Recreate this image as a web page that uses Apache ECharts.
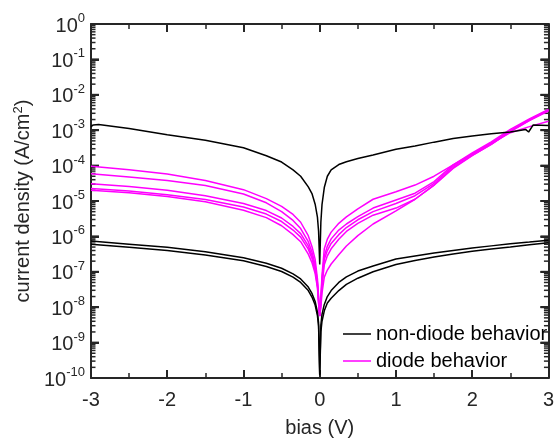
<!DOCTYPE html>
<html>
<head>
<meta charset="utf-8">
<script src="https://cdn.jsdelivr.net/npm/echarts@6/dist/echarts.min.js"></script>
<style>
html,body{margin:0;padding:0;background:#fff;}
#chart{width:557px;height:443px;}
</style>
</head>
<body>
<div id="chart"></div>
<script>
// ---- data ----
const BIAS = [-3, -2.5, -2, -1.5, -1, -0.7, -0.5, -0.35, -0.25, -0.15, -0.1, -0.06, -0.03, -0.015, 0,
              0.015, 0.03, 0.06, 0.1, 0.15, 0.25, 0.35, 0.5, 0.7, 1, 1.25, 1.5, 1.75, 2, 2.25, 2.5, 2.75, 3];

// non-diode behavior: two low curves
const LOW_A = [7.4e-7, 6.0e-7, 4.9e-7, 3.7e-7, 2.5e-7, 1.74e-7, 1.26e-7, 8.7e-8, 6.3e-8, 3.7e-8, 2.4e-8, 1.45e-8, 7.2e-9, 3.6e-9, 1.3e-10,
               3.2e-9, 6.3e-9, 1.2e-8, 2.0e-8, 2.95e-8, 5.0e-8, 7.2e-8, 1.05e-7, 1.45e-7, 2.3e-7, 2.8e-7, 3.4e-7, 4.0e-7, 4.7e-7, 5.4e-7, 6.2e-7, 6.9e-7, 7.8e-7];
const LOW_B = [6.0e-7, 4.9e-7, 4.0e-7, 3.0e-7, 2.04e-7, 1.41e-7, 1.02e-7, 7.1e-8, 5.0e-8, 2.95e-8, 1.9e-8, 1.15e-8, 5.8e-9, 2.9e-9, 1.2e-10,
               2.0e-9, 4.0e-9, 7.9e-9, 1.32e-8, 1.8e-8, 2.95e-8, 4.4e-8, 6.6e-8, 1.0e-7, 1.6e-7, 2.1e-7, 2.6e-7, 3.2e-7, 3.8e-7, 4.4e-7, 5.0e-7, 5.8e-7, 6.6e-7];

// non-diode behavior: high curve
const HIGH_BIAS = [-3, -2.97, -2.9, -2.5, -2, -1.5, -1, -0.7, -0.5, -0.35, -0.25, -0.15, -0.1, -0.06, -0.03, -0.015, 0,
                   0.015, 0.03, 0.06, 0.1, 0.15, 0.25, 0.35, 0.5, 0.7, 1, 1.25, 1.5, 1.75, 2, 2.25, 2.5, 2.7, 2.74, 2.8, 3];
const HIGH = [1.26e-3, 1.41e-3, 1.45e-3, 1.12e-3, 7.4e-4, 5.2e-4, 3.2e-4, 1.9e-4, 1.26e-4, 7.6e-5, 5.0e-5, 2.5e-5, 1.58e-5, 8.1e-6, 3.5e-6, 1.4e-6, 1.6e-7,
              2.5e-6, 7.9e-6, 2.4e-5, 5.0e-5, 7.6e-5, 1.07e-4, 1.29e-4, 1.58e-4, 2.0e-4, 2.9e-4, 3.6e-4, 4.6e-4, 5.8e-4, 6.9e-4, 7.9e-4, 8.9e-4, 1.05e-3, 8.9e-4, 1.41e-3, 1.35e-3];

// diode behavior: five curves
const DIODE_1 = [9.55e-5, 7.59e-5, 5.75e-5, 3.8e-5, 2.09e-5, 1.17e-5, 7.08e-6, 4.17e-6, 2.51e-6, 1.05e-6, 5.01e-7, 2.24e-7, 6.31e-8, 2.0e-8, 5.62e-9,
                 1.78e-8, 7.94e-8, 4.47e-7, 8.32e-7, 1.32e-6, 2.34e-6, 3.55e-6, 6.03e-6, 1.12e-5, 1.82e-5, 2.82e-5, 5.01e-5, 1.05e-4, 2.09e-4, 4.17e-4, 8.51e-4, 1.26e-3, 1.78e-3];
const DIODE_2 = [5.89e-5, 4.79e-5, 3.8e-5, 2.75e-5, 1.58e-5, 8.91e-6, 5.01e-6, 2.82e-6, 1.66e-6, 7.08e-7, 3.55e-7, 1.58e-7, 5.01e-8, 1.78e-8, 5.62e-9,
                 1.58e-8, 6.31e-8, 2.82e-7, 5.25e-7, 8.51e-7, 1.51e-6, 2.24e-6, 3.63e-6, 6.31e-6, 1.07e-5, 1.66e-5, 3.55e-5, 1.05e-4, 2.29e-4, 4.68e-4, 1.05e-3, 2.09e-3, 3.89e-3];
const DIODE_3 = [3.09e-5, 2.57e-5, 2.0e-5, 1.41e-5, 8.51e-6, 5.37e-6, 3.31e-6, 1.91e-6, 1.2e-6, 5.37e-7, 2.82e-7, 1.26e-7, 4.47e-8, 1.58e-8, 5.62e-9,
                 1.41e-8, 5.01e-8, 2.24e-7, 3.98e-7, 6.31e-7, 1.12e-6, 1.78e-6, 2.95e-6, 5.01e-6, 8.51e-6, 1.41e-5, 3.16e-5, 9.55e-5, 2.14e-4, 4.37e-4, 9.77e-4, 2.0e-3, 3.72e-3];
const DIODE_4 = [2.24e-5, 1.91e-5, 1.51e-5, 1.1e-5, 6.76e-6, 4.27e-6, 2.63e-6, 1.51e-6, 9.55e-7, 4.37e-7, 2.34e-7, 1.07e-7, 3.98e-8, 1.41e-8, 5.62e-9,
                 1.26e-8, 3.98e-8, 1.58e-7, 2.82e-7, 4.47e-7, 8.32e-7, 1.38e-6, 2.34e-6, 3.98e-6, 6.31e-6, 1.12e-5, 2.82e-5, 8.71e-5, 1.95e-4, 3.98e-4, 9.12e-4, 1.86e-3, 3.47e-3];
const DIODE_5 = [2.0e-5, 1.7e-5, 1.35e-5, 9.55e-6, 5.5e-6, 3.39e-6, 2.0e-6, 1.12e-6, 7.08e-7, 3.16e-7, 1.78e-7, 8.91e-8, 3.55e-8, 1.26e-8, 5.62e-9,
                 1.0e-8, 2.51e-8, 7.08e-8, 1.12e-7, 1.66e-7, 3.02e-7, 5.37e-7, 1.05e-6, 2.24e-6, 5.25e-6, 1.12e-5, 2.82e-5, 8.32e-5, 1.91e-4, 3.98e-4, 9.33e-4, 1.91e-3, 3.63e-3];

const X_TICKS = [-3, -2, -1, 0, 1, 2, 3];
const Y_DECADES = [-10, -9, -8, -7, -6, -5, -4, -3, -2, -1, 0];
const MINOR_MULT = [2, 3, 4, 5, 6, 7, 8, 9];

const NAME_ND = 'non-diode behavior';
const NAME_D = 'diode behavior';

// ---- build ----
const FONT = '"Liberation Sans", Arial, sans-serif';
const AX = '#262626';
function pairs(xs, ys) { return xs.map(function (x, i) { return [x, ys[i]]; }); }

const minorVals = [];
Y_DECADES.slice(0, -1).forEach(function (e) { MINOR_MULT.forEach(function (m) { minorVals.push([X_TICKS[0], m * Math.pow(10, e)]); }); });
const majorVals = Y_DECADES.map(function (e) { return [X_TICKS[0], Math.pow(10, e)]; });

function lineSeries(name, color, data) {
  return { type: 'line', name: name, data: data, showSymbol: false, symbol: 'none', smooth: false,
           lineStyle: { color: color, width: 1.5 }, itemStyle: { color: color } };
}
function axLine() { return { show: true, onZero: false, lineStyle: { color: AX, width: 2 } }; }
function axTick() { return { show: true, inside: true, length: 8, lineStyle: { color: AX, width: 2 } }; }
function axMinor() { return { show: true, splitNumber: 2, length: 5, lineStyle: { color: AX, width: 1.5 } }; }
function tickSeries(data, len, w) {
  return {
    type: 'custom', clip: false, data: data, encode: { x: 0, y: 1 },
    renderItem: function (params, api) {
      const p = api.coord([api.value(0), api.value(1)]);
      const cs = params.coordSys;
      return { type: 'group', children: [
        { type: 'line', shape: { x1: cs.x, y1: p[1], x2: cs.x + len, y2: p[1] }, style: { stroke: AX, lineWidth: w } },
        { type: 'line', shape: { x1: cs.x + cs.width, y1: p[1], x2: cs.x + cs.width - len, y2: p[1] }, style: { stroke: AX, lineWidth: w } }
      ]};
    }
  };
}

const series = [
  lineSeries(NAME_D, '#ff00ff', pairs(BIAS, DIODE_1)),
  lineSeries(NAME_D, '#ff00ff', pairs(BIAS, DIODE_2)),
  lineSeries(NAME_D, '#ff00ff', pairs(BIAS, DIODE_3)),
  lineSeries(NAME_D, '#ff00ff', pairs(BIAS, DIODE_4)),
  lineSeries(NAME_D, '#ff00ff', pairs(BIAS, DIODE_5)),
  lineSeries(NAME_ND, '#000000', pairs(HIGH_BIAS, HIGH)),
  lineSeries(NAME_ND, '#000000', pairs(BIAS, LOW_A)),
  lineSeries(NAME_ND, '#000000', pairs(BIAS, LOW_B)),
  tickSeries(minorVals, 4.5, 1.5),
  tickSeries(majorVals, 8, 2)
];

const option = {
  animation: false,
  grid: { left: 91, right: 3, top: 24, bottom: 60 },
  legend: {
    data: [NAME_ND, NAME_D], orient: 'vertical', left: 343, top: 323,
    icon: 'rect', itemWidth: 28, itemHeight: 1.5, itemGap: 5,
    textStyle: { fontFamily: FONT, fontSize: 20, color: '#000', lineHeight: 22 },
    padding: 0, selectedMode: false
  },
  xAxis: [
    { type: 'value', min: -3, max: 3, interval: 1, position: 'bottom',
      axisLine: axLine(), axisTick: axTick(), minorTick: axMinor(), splitLine: { show: false },
      axisLabel: { fontFamily: FONT, fontSize: 20, color: AX, margin: 12 },
      name: 'bias (V)', nameLocation: 'middle', nameGap: 40,
      nameTextStyle: { fontFamily: FONT, fontSize: 20, color: AX } },
    { type: 'value', min: -3, max: 3, interval: 1, position: 'top',
      axisLine: axLine(), axisTick: axTick(), minorTick: axMinor(), splitLine: { show: false }, axisLabel: { show: false } }
  ],
  yAxis: [
    { type: 'log', logBase: 10, min: 1e-10, max: 1, interval: 1, position: 'left',
      axisLine: axLine(), axisTick: axTick(), splitLine: { show: false },
      axisLabel: {
        margin: 6, color: AX,
        formatter: function (v) { return '{b|10}{s|' + Math.round(Math.log10(v)) + '}'; },
        rich: {
          b: { fontFamily: FONT, fontSize: 20, color: AX, lineHeight: 24, verticalAlign: 'bottom' },
          s: { fontFamily: FONT, fontSize: 13, color: AX, lineHeight: 24, verticalAlign: 'top' }
        }
      },
      name: 'current density (A/cm{s|2})', nameLocation: 'middle', nameGap: 57,
      nameTextStyle: { fontFamily: FONT, fontSize: 20, color: AX,
        rich: { s: { fontFamily: FONT, fontSize: 13, color: AX, verticalAlign: 'top', lineHeight: 22 } } } },
    { type: 'log', logBase: 10, min: 1e-10, max: 1, interval: 1, position: 'right',
      axisLine: axLine(), axisTick: axTick(), splitLine: { show: false }, axisLabel: { show: false } }
  ],
  series: series
};

const chart = echarts.init(document.getElementById('chart'));
chart.setOption(option);
</script>
</body>
</html>
